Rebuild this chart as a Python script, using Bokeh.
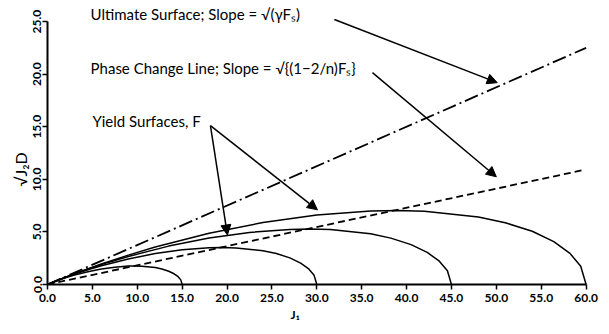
from math import pi
from bokeh.plotting import figure
from bokeh.models import Range1d, FixedTicker, Label, Arrow, NormalHead, Title
from bokeh.embed import file_html
from bokeh.resources import INLINE

# ---- data ----
x_ticks = [0, 5, 10, 15, 20, 25, 30, 35, 40, 45, 50, 55, 60]
x_tick_labels = ["0.0", "5.0", "10.0", "15.0", "20.0", "25.0", "30.0",
                 "35.0", "40.0", "45.0", "50.0", "55.0", "60.0"]
y_ticks = [0, 5, 10, 15, 20, 25]
y_tick_labels = ["0.0", "5.0", "10.0", "15.0", "20.0", "25.0"]

ultimate_j1 = [0.0, 60.0]
ultimate_sqrtj2d = [0.0, 22.5]

phase_j1 = [0.0, 59.8]
phase_sqrtj2d = [0.0, 10.9]

yield15_j1 = [0, 0.75, 1.5, 2.25, 3, 4.5, 6, 7.5, 9, 9.75, 10.5, 12, 12.75, 13.5, 14.1, 14.55, 14.85, 15]
yield15_sqrtj2d = [0, 0.26, 0.49, 0.70, 0.89, 1.22, 1.47, 1.65, 1.75, 1.76, 1.74, 1.61, 1.47, 1.26, 1.02, 0.74, 0.44, 0]

yield30_j1 = [0, 1.5, 3, 4.5, 6, 9, 12, 15, 18, 19.5, 21, 24, 25.5, 27, 28.2, 29.1, 29.7, 30]
yield30_sqrtj2d = [0, 0.52, 0.98, 1.40, 1.78, 2.43, 2.94, 3.30, 3.49, 3.52, 3.48, 3.21, 2.94, 2.53, 2.03, 1.48, 0.87, 0]

yield45_j1 = [0, 2.25, 4.5, 6.75, 9, 13.5, 18, 22.5, 27, 29.25, 31.5, 36, 38.25, 40.5, 42.3, 43.65, 44.55, 45]
yield45_sqrtj2d = [0, 0.77, 1.47, 2.10, 2.67, 3.65, 4.42, 4.95, 5.24, 5.27, 5.22, 4.82, 4.41, 3.79, 3.05, 2.22, 1.31, 0]

yield60_j1 = [0, 3, 6, 9, 12, 18, 24, 30, 36, 39, 42, 48, 51, 54, 56.4, 58.2, 59.4, 60]
yield60_sqrtj2d = [0, 1.03, 1.96, 2.79, 3.56, 4.87, 5.89, 6.61, 6.98, 7.03, 6.97, 6.42, 5.87, 5.06, 4.07, 2.96, 1.74, 0]

FONT = "Lato"

p = figure(width=601, height=326, x_range=Range1d(0, 60.6), y_range=Range1d(0, 27.0),
           output_backend="svg", toolbar_location=None,
           min_border_left=47, min_border_right=10, min_border_top=0, min_border_bottom=42)
p.xgrid.visible = False
p.ygrid.visible = False
p.outline_line_color = None
p.background_fill_color = "white"

p.xaxis.bounds = (0, 60)
p.yaxis.bounds = (0, 25)
p.xaxis.ticker = FixedTicker(ticks=x_ticks)
p.yaxis.ticker = FixedTicker(ticks=y_ticks)
p.xaxis.major_label_overrides = {t: l for t, l in zip(x_ticks, x_tick_labels)}
p.yaxis.major_label_overrides = {t: l for t, l in zip(y_ticks, y_tick_labels)}
for ax in (p.xaxis, p.yaxis):
    ax.axis_line_width = 2
    ax.axis_line_color = "black"
    ax.major_tick_line_width = 1.5
    ax.major_tick_line_color = "black"
    ax.major_tick_in = 0
    ax.major_tick_out = 5
    ax.minor_tick_line_color = None
    ax.major_label_text_font = FONT
    ax.major_label_text_font_size = "12px"
    ax.major_label_text_font_style = "bold"
    ax.major_label_text_color = "black"
p.xaxis.major_label_standoff = 4
p.yaxis.major_label_standoff = 1
p.yaxis.major_label_orientation = "vertical"

# axis titles as side titles so they can be offset like in the reference
p.add_layout(Title(text="√J₂D", align="left", offset=98, standoff=2,
                   text_font=FONT, text_font_size="16px", text_font_style="normal",
                   text_color="black"), "left")
p.add_layout(Title(text="J₁", align="left", offset=243, standoff=0,
                   text_font=FONT, text_font_size="12px", text_font_style="bold",
                   text_color="black"), "below")

p.line(ultimate_j1, ultimate_sqrtj2d, line_color="black", line_width=1.8, line_dash="14 4 2 4")
p.line(phase_j1, phase_sqrtj2d, line_color="black", line_width=1.8, line_dash="7 4")
for xs, ys in ((yield15_j1, yield15_sqrtj2d), (yield30_j1, yield30_sqrtj2d),
               (yield45_j1, yield45_sqrtj2d), (yield60_j1, yield60_sqrtj2d)):
    p.line(xs, ys, line_color="black", line_width=1.5)

def label(x, y, text, size="15px"):
    p.add_layout(Label(x=x, y=y, text=text, text_font=FONT, text_font_size=size,
                       text_color="black", text_baseline="middle", text_align="left"))

label(4.8, 25.7, "Ultimate Surface; Slope = √(γFₛ)")
label(4.8, 20.6, "Phase Change Line; Slope = √{(1−2/n)Fₛ}")
label(5.0, 15.5, "Yield Surfaces, F")

def arrow(x0, y0, x1, y1):
    p.add_layout(Arrow(end=NormalHead(size=10, fill_color="black", line_color="black"),
                       x_start=x0, y_start=y0, x_end=x1, y_end=y1,
                       line_color="black", line_width=1.5))

arrow(31.96, 25.19, 50.1, 19.19)
arrow(36.2, 20.14, 50.0, 10.24)
arrow(18.15, 15.1, 20.04, 4.71)
arrow(18.15, 15.1, 30.07, 7.1)

open("out.html", "w").write(file_html(p, INLINE))
